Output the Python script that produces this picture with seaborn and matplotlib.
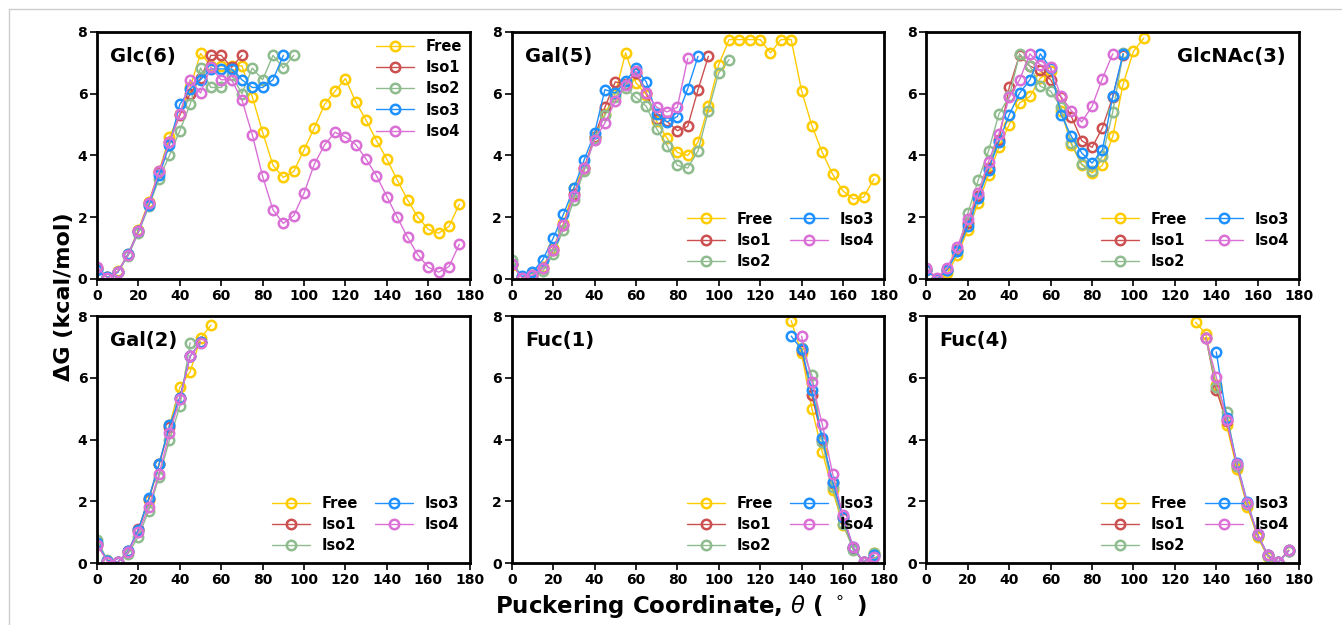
import numpy as np
import pandas as pd
import seaborn as sns
import matplotlib.pyplot as plt
from matplotlib.lines import Line2D

sns.set_style("ticks")
plt.rcParams["font.family"] = ["DejaVu Sans"]
plt.rcParams["font.weight"] = "bold"
plt.rcParams["axes.labelweight"] = "bold"
plt.rcParams["mathtext.fontset"] = "custom"
plt.rcParams["mathtext.it"] = "DejaVu Sans:italic:normal"
plt.rcParams["mathtext.rm"] = "DejaVu Sans:normal"
for key in ["text.color", "axes.edgecolor", "axes.labelcolor", "xtick.color", "ytick.color"]:
    plt.rcParams[key] = "black"

names = ["Free", "Iso1", "Iso2", "Iso3", "Iso4"]
colors = ["#FFCC00", "#CD5050", "#8FBC8F", "#1E90FF", "#DA70D6"]

# each series: first angle (deg), then dG values every 5 deg
glc6_start = [0, 0, 0, 0, 0]
glc6_free = [0.35, 0.05, 0.25, 0.8, 1.6, 2.5, 3.5, 4.6, 5.35, 6.2, 7.3, 6.9, 6.9, 6.9, 6.9, 5.9, 4.75, 3.68,
             3.29, 3.48, 4.18, 4.9, 5.66, 6.08, 6.49, 5.73, 5.14, 4.48, 3.88, 3.21, 2.56, 2.0, 1.61, 1.48, 1.7, 2.42]
glc6_iso1 = [0.35, 0.05, 0.22, 0.78, 1.55, 2.45, 3.45, 4.45, 5.3, 6.0, 6.5, 7.24, 7.24, 6.85, 7.24]
glc6_iso2 = [0.35, 0.05, 0.22, 0.75, 1.5, 2.35, 3.25, 4.0, 4.8, 5.66, 6.83, 6.2, 6.2, 6.6, 6.0, 6.83, 6.45,
             7.24, 6.83, 7.24]
glc6_iso3 = [0.3, 0.05, 0.22, 0.8, 1.55, 2.4, 3.35, 4.35, 5.65, 6.15, 6.45, 6.8, 6.8, 6.8, 6.45, 6.2, 6.2,
             6.45, 7.24]
glc6_iso4 = [0.4, 0.02, 0.24, 0.78, 1.54, 2.45, 3.48, 4.43, 5.34, 6.45, 6.02, 6.85, 6.45, 6.45, 5.8, 4.67,
             3.32, 2.24, 1.8, 2.05, 2.78, 3.72, 4.35, 4.75, 4.6, 4.35, 3.88, 3.34, 2.67, 2.0, 1.35, 0.78, 0.38,
             0.22, 0.4, 1.12]

gal5_start = [0, 0, 0, 0, 0]
gal5_free = [0.45, 0.05, 0.12, 0.4, 1.0, 1.8, 2.95, 3.6, 4.6, 5.34, 6.0, 7.32, 6.35, 5.97, 5.1, 4.56, 4.1,
             4.0, 4.43, 5.59, 6.94, 7.75, 7.75, 7.75, 7.75, 7.32, 7.75, 7.75, 6.1, 4.96, 4.1, 3.39, 2.85,
             2.59, 2.65, 3.24]
gal5_iso1 = [0.5, 0.05, 0.1, 0.35, 0.95, 1.75, 2.75, 3.6, 4.6, 5.56, 6.38, 6.31, 6.67, 6.02, 5.19, 5.1, 4.8,
             4.94, 6.13, 7.21]
gal5_iso2 = [0.6, 0.05, 0.05, 0.25, 0.8, 1.6, 2.55, 3.5, 4.55, 5.3, 5.9, 6.18, 5.88, 5.59, 4.86, 4.32, 3.68,
             3.59, 4.15, 5.45, 6.67, 7.1]
gal5_iso3 = [0.5, 0.08, 0.22, 0.62, 1.32, 2.1, 2.94, 3.86, 4.72, 6.13, 6.02, 6.4, 6.83, 6.38, 5.34, 5.08,
             5.26, 6.16, 7.21]
gal5_iso4 = [0.5, 0.03, 0.12, 0.35, 0.95, 1.75, 2.7, 3.6, 4.5, 5.05, 5.75, 6.29, 6.72, 6.02, 5.56, 5.41,
             5.56, 7.14]

glcnac3_start = [0, 0, 0, 0, 0]
glcnac3_free = [0.3, 0.0, 0.18, 0.78, 1.59, 2.45, 3.37, 4.26, 5.0, 5.7, 5.91, 6.5, 6.72, 5.45, 4.35, 3.7,
                3.43, 3.68, 4.62, 6.31, 7.37, 7.8]
glcnac3_iso1 = [0.3, 0.0, 0.3, 0.95, 1.8, 2.7, 3.6, 4.5, 6.2, 7.25, 6.89, 6.75, 6.45, 5.88, 5.26, 4.48,
                4.26, 4.89, 5.9, 7.25]
glcnac3_iso2 = [0.35, 0.0, 0.3, 0.89, 2.13, 3.2, 4.15, 5.34, 5.91, 7.29, 6.89, 6.24, 6.08, 5.56, 4.4, 3.72,
                3.48, 3.97, 5.41, 7.3]
glcnac3_iso3 = [0.3, 0.0, 0.3, 0.89, 1.7, 2.62, 3.54, 4.45, 5.32, 6.02, 6.45, 7.29, 6.83, 5.32, 4.62, 4.08,
                3.75, 4.18, 5.91, 7.29]
glcnac3_iso4 = [0.35, 0.03, 0.35, 1.05, 1.95, 2.78, 3.8, 4.69, 5.88, 6.45, 7.29, 6.92, 6.85, 5.91, 5.45,
                5.08, 5.59, 6.49, 7.29]

gal2_start = [0, 0, 0, 0, 0]
gal2_free = [0.65, 0.05, 0.03, 0.36, 1.06, 2.05, 3.2, 4.46, 5.69, 6.2, 7.28, 7.7]
gal2_iso1 = [0.6, 0.08, 0.03, 0.38, 1.1, 2.08, 3.2, 4.4, 5.35, 6.7, 7.15]
gal2_iso2 = [0.75, 0.1, 0.03, 0.3, 0.86, 1.7, 2.8, 3.98, 5.08, 7.14]
gal2_iso3 = [0.65, 0.08, 0.03, 0.38, 1.08, 2.1, 3.22, 4.46, 5.36, 6.7, 7.15]
gal2_iso4 = [0.6, 0.05, 0.03, 0.36, 1.0, 1.82, 2.9, 4.2, 5.3, 6.7, 7.14]

fuc1_start = [135, 140, 140, 135, 140]
fuc1_free = [7.85, 6.79, 5.0, 3.6, 2.36, 1.22, 0.5, 0.03, 0.32]
fuc1_iso1 = [6.9, 5.44, 4.0, 2.6, 1.45, 0.48, 0.03, 0.25]
fuc1_iso2 = [6.95, 6.09, 3.92, 2.46, 1.28, 0.43, 0.03, 0.32]
fuc1_iso3 = [7.35, 6.92, 5.6, 4.06, 2.63, 1.49, 0.52, 0.03, 0.25]
fuc1_iso4 = [7.35, 5.87, 4.5, 2.9, 1.55, 0.52, 0.03, 0.19]

fuc4_start = [130, 135, 135, 140, 135]
fuc4_free = [7.8, 7.42, 5.76, 4.46, 3.06, 1.82, 0.84, 0.19, 0.03, 0.43]
fuc4_iso1 = [7.3, 5.6, 4.6, 3.15, 1.9, 0.9, 0.25, 0.03, 0.4]
fuc4_iso2 = [7.3, 5.7, 4.9, 3.15, 1.9, 0.9, 0.22, 0.03, 0.4]
fuc4_iso3 = [6.84, 4.71, 3.24, 1.98, 0.93, 0.25, 0.03, 0.41]
fuc4_iso4 = [7.28, 6.03, 4.63, 3.2, 1.95, 0.93, 0.25, 0.03, 0.41]

panels = [
    ("Glc(6)", glc6_start, [glc6_free, glc6_iso1, glc6_iso2, glc6_iso3, glc6_iso4]),
    ("Gal(5)", gal5_start, [gal5_free, gal5_iso1, gal5_iso2, gal5_iso3, gal5_iso4]),
    ("GlcNAc(3)", glcnac3_start, [glcnac3_free, glcnac3_iso1, glcnac3_iso2, glcnac3_iso3, glcnac3_iso4]),
    ("Gal(2)", gal2_start, [gal2_free, gal2_iso1, gal2_iso2, gal2_iso3, gal2_iso4]),
    ("Fuc(1)", fuc1_start, [fuc1_free, fuc1_iso1, fuc1_iso2, fuc1_iso3, fuc1_iso4]),
    ("Fuc(4)", fuc4_start, [fuc4_free, fuc4_iso1, fuc4_iso2, fuc4_iso3, fuc4_iso4]),
]

fig, axes = plt.subplots(2, 3, figsize=(13.42, 6.25), dpi=100)
fig.subplots_adjust(left=0.0723, right=0.968, top=0.949, bottom=0.099, wspace=0.113, hspace=0.15)

ms = 6.8
mew = 1.8

for k, (title, starts, series) in enumerate(panels):
    ax = axes.flat[k]
    for name, color, st, vals in zip(names, colors, starts, series):
        df = pd.DataFrame({"theta": st + 5 * np.arange(len(vals)), "dG": vals})
        sns.lineplot(data=df, x="theta", y="dG", ax=ax, color=color, linewidth=1.0,
                     marker="o", markersize=ms, markerfacecolor="none",
                     markeredgecolor=color, markeredgewidth=mew, sort=False)
    ax.set_xlim(0, 180)
    ax.set_ylim(0, 8)
    ax.set_xticks(range(0, 181, 20))
    ax.set_yticks(range(0, 9, 2))
    ax.set_xlabel("")
    ax.set_ylabel("")
    ax.tick_params(labelsize=10, length=5, width=1.2, pad=2, colors="black")
    for lab in ax.get_xticklabels() + ax.get_yticklabels():
        lab.set_fontweight("bold")
    for sp in ax.spines.values():
        sp.set_visible(True)
        sp.set_linewidth(2)
        sp.set_color("black")

    if title == "GlcNAc(3)":
        ax.text(0.965, 0.9, title, transform=ax.transAxes, ha="right", va="center",
                fontsize=14, fontweight="bold")
    else:
        ax.text(0.035, 0.9, title, transform=ax.transAxes, ha="left", va="center",
                fontsize=14, fontweight="bold")

    handles = [Line2D([], [], color=c, linewidth=1.0, marker="o", markersize=ms,
                      markerfacecolor="none", markeredgecolor=c, markeredgewidth=mew)
               for c in colors]
    if k == 0:
        ax.legend(handles, names, loc="upper right", frameon=False, ncol=1,
                  prop={"size": 10.5, "weight": "bold"}, handlelength=2.6,
                  labelspacing=0.42, borderaxespad=0.2, borderpad=0.3)
    else:
        ax.legend(handles, names, loc="lower right", frameon=False, ncol=2,
                  prop={"size": 10.5, "weight": "bold"}, handlelength=2.6,
                  labelspacing=0.42, columnspacing=1.2, borderaxespad=0.3)

fig.text(0.048, 0.525, "ΔG (kcal/mol)", rotation=90, ha="center", va="center",
         fontsize=16, fontweight="bold")
fig.text(0.507, 0.03, r"Puckering Coordinate, $\theta$ ( $^\circ$ )", ha="center", va="center",
         fontsize=16.5, fontweight="bold")

# thin frame line seen at the left and top of the picture
fig.add_artist(Line2D([0.0068, 0.0068], [0.0, 0.986], color="#cccccc", linewidth=1))
fig.add_artist(Line2D([0.0068, 1.0], [0.986, 0.986], color="#cccccc", linewidth=1))

fig.savefig("out.png", dpi=100)
